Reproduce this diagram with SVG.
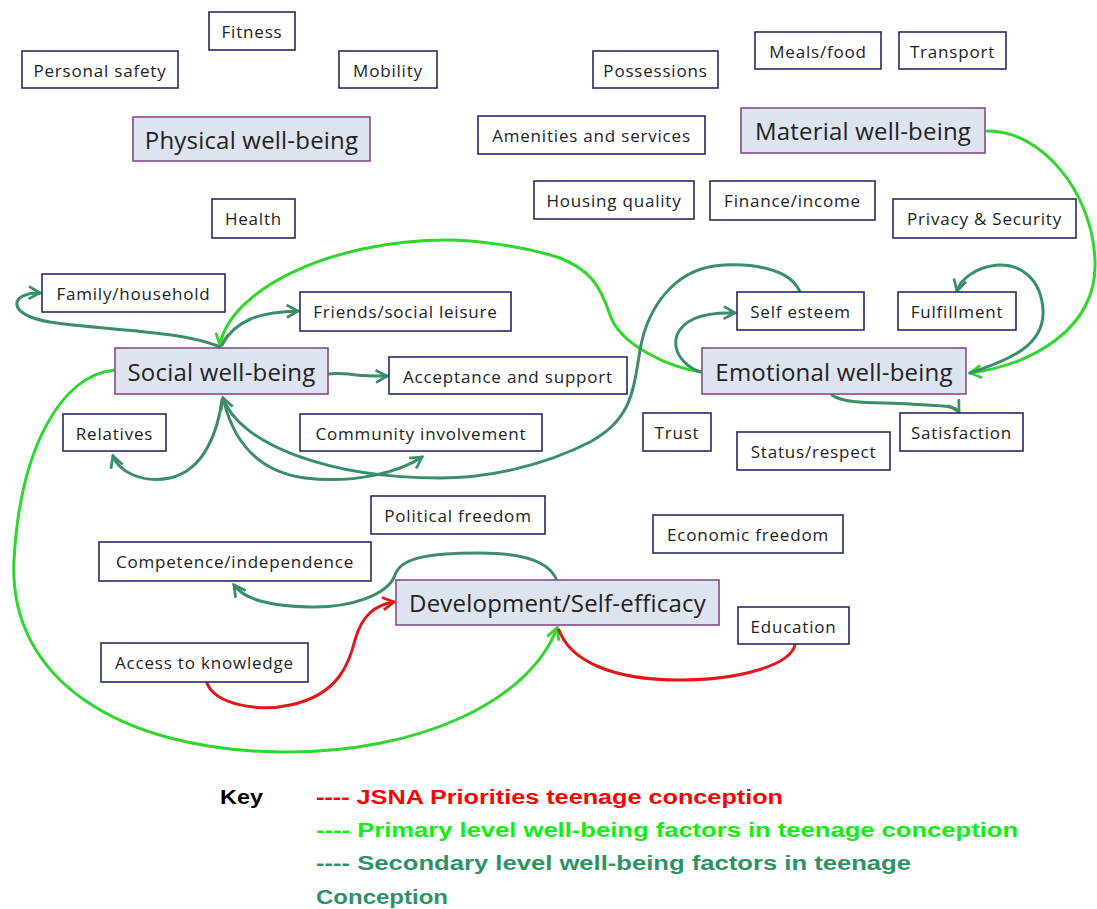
<svg xmlns="http://www.w3.org/2000/svg" width="1097" height="909" viewBox="0 0 1097 909">
<defs>
<style>
.b{fill:#fff;stroke:#2a2a66;stroke-width:1.6}
.m{fill:#dde4f0;stroke:#8a4a8a;stroke-width:1.6}
.t{font-family:"Open Sans","DejaVu Sans",sans-serif;font-size:17px;letter-spacing:0.8px;fill:#222;text-anchor:middle;dominant-baseline:central}
.T{font-family:"Open Sans","DejaVu Sans",sans-serif;font-size:24px;letter-spacing:0.2px;fill:#222;text-anchor:middle;dominant-baseline:central}
.p{fill:none;stroke:#2ed62e;stroke-width:3;stroke-linecap:round}
.s{fill:none;stroke:#3a8e6a;stroke-width:3;stroke-linecap:round}
.r{fill:none;stroke:#e01818;stroke-width:3;stroke-linecap:round}
.k{font-family:"Liberation Sans",Arial,sans-serif;font-size:20px;font-weight:bold}
</style>
<marker id="ap" viewBox="0 0 12 12" refX="10" refY="6" markerWidth="5" markerHeight="5" orient="auto" markerUnits="strokeWidth"><path d="M1,1 L10,6 L1,11" fill="none" stroke="#2ed62e" stroke-width="2.2"/></marker>
<marker id="as" viewBox="0 0 12 12" refX="10" refY="6" markerWidth="5" markerHeight="5" orient="auto" markerUnits="strokeWidth"><path d="M1,1 L10,6 L1,11" fill="none" stroke="#3a8e6a" stroke-width="2.2"/></marker>
<marker id="ar" viewBox="0 0 12 12" refX="10" refY="6" markerWidth="5" markerHeight="5" orient="auto" markerUnits="strokeWidth"><path d="M1,1 L10,6 L1,11" fill="none" stroke="#e01818" stroke-width="2.2"/></marker>
</defs>
<rect width="1097" height="909" fill="#fff"/>

<g id="connectors">
<path class="p" d="M987,131 C1040,130 1092,190 1095,260 C1098,330 1030,365 970,373" marker-end="url(#ap)"/>
<path class="p" d="M702,372 C670,368 620,345 610,315 C600,285 590,270 560,258 C520,245 470,240 447,240 C330,240 230,290 220,345" marker-end="url(#ap)"/>
<path class="p" d="M115,370 C60,375 20,450 14,560 C8,680 120,750 280,752 C420,754 530,700 557,628" marker-end="url(#ap)"/>
<path class="s" d="M220,347 C180,330 100,330 50,322 C5,315 10,292 40,293" marker-end="url(#as)"/>
<path class="s" d="M222,345 C235,320 260,312 298,311" marker-end="url(#as)"/>
<path class="s" d="M328,374 C345,372 360,377 387,376" marker-end="url(#as)"/>
<path class="s" d="M222,400 C218,430 205,470 170,478 C140,484 118,470 113,456" marker-end="url(#as)"/>
<path class="s" d="M224,402 C235,445 260,472 305,478 C355,484 400,472 422,457" marker-end="url(#as)"/>
<path class="s" d="M800,292 C790,268 750,262 714,266 C675,272 648,305 640,350 C633,395 630,420 590,442 C545,465 490,478 440,478 C330,478 240,445 223,398" marker-end="url(#as)"/>
<path class="s" d="M700,372 C682,365 672,350 677,335 C684,318 705,312 735,313" marker-end="url(#as)"/>
<path class="s" d="M970,373 C1010,360 1045,345 1043,310 C1041,278 1020,264 998,265 C975,267 960,280 957,291" marker-end="url(#as)"/>
<path class="s" d="M832,395 C845,405 880,402 910,404 C940,406 955,405 959,412" marker-end="url(#as)"/>
<path class="s" d="M557,581 C550,560 520,553 480,553 C420,553 400,560 395,575 C388,595 350,608 310,607 C270,606 245,600 234,585" marker-end="url(#as)"/>
<path class="r" d="M207,683 C215,705 260,712 290,705 C340,695 350,660 355,640 C362,615 375,605 394,602" marker-end="url(#ar)"/>
<path class="r" d="M795,645 C790,665 740,680 680,680 C610,680 570,660 559,630"/>
</g>

<g id="physical-wellbeing"><rect class="m" x="133" y="117" width="237" height="44"/><text class="T" x="251.5" y="139">Physical well-being</text></g>
<g id="fitness"><rect class="b" x="209" y="12" width="86" height="38"/><text class="t" x="252" y="31">Fitness</text></g>
<g id="personal-safety"><rect class="b" x="22" y="51" width="156" height="37"/><text class="t" x="100" y="70">Personal safety</text></g>
<g id="mobility"><rect class="b" x="339" y="51" width="98" height="37"/><text class="t" x="388" y="70">Mobility</text></g>
<g id="health"><rect class="b" x="212" y="199" width="83" height="39"/><text class="t" x="253.5" y="218.5">Health</text></g>

<g id="material-wellbeing"><rect class="m" x="741" y="108" width="244" height="45"/><text class="T" x="863" y="130.5">Material well-being</text></g>
<g id="possessions"><rect class="b" x="593" y="51" width="125" height="37"/><text class="t" x="655.5" y="70">Possessions</text></g>
<g id="meals-food"><rect class="b" x="755" y="32" width="126" height="37"/><text class="t" x="818" y="51">Meals/food</text></g>
<g id="transport"><rect class="b" x="899" y="32" width="107" height="37"/><text class="t" x="952.5" y="51">Transport</text></g>
<g id="amenities"><rect class="b" x="478" y="116" width="227" height="38"/><text class="t" x="591.5" y="135">Amenities and services</text></g>
<g id="housing-quality"><rect class="b" x="534" y="181" width="160" height="38"/><text class="t" x="614" y="200">Housing quality</text></g>
<g id="finance-income"><rect class="b" x="710" y="181" width="165" height="39"/><text class="t" x="792.5" y="200.5">Finance/income</text></g>
<g id="privacy-security"><rect class="b" x="893" y="199" width="183" height="39"/><text class="t" x="984.5" y="218.5">Privacy &amp; Security</text></g>

<g id="social-wellbeing"><rect class="m" x="115" y="348" width="213" height="46"/><text class="T" x="221.5" y="371">Social well-being</text></g>
<g id="family-household"><rect class="b" x="42" y="274" width="183" height="38"/><text class="t" x="133.5" y="293">Family/household</text></g>
<g id="friends"><rect class="b" x="300" y="292" width="211" height="39"/><text class="t" x="405.5" y="311.5">Friends/social leisure</text></g>
<g id="acceptance"><rect class="b" x="389" y="357" width="238" height="37"/><text class="t" x="508" y="376">Acceptance and support</text></g>
<g id="relatives"><rect class="b" x="63" y="414" width="103" height="37"/><text class="t" x="114.5" y="433">Relatives</text></g>
<g id="community"><rect class="b" x="300" y="414" width="242" height="37"/><text class="t" x="421" y="433">Community involvement</text></g>

<g id="emotional-wellbeing"><rect class="m" x="702" y="348" width="264" height="46"/><text class="T" x="834" y="371">Emotional well-being</text></g>
<g id="self-esteem"><rect class="b" x="737" y="292" width="127" height="38"/><text class="t" x="800.5" y="311">Self esteem</text></g>
<g id="fulfillment"><rect class="b" x="898" y="292" width="118" height="38"/><text class="t" x="957" y="311">Fulfillment</text></g>
<g id="trust"><rect class="b" x="643" y="413" width="68" height="38"/><text class="t" x="677" y="432">Trust</text></g>
<g id="status"><rect class="b" x="737" y="432" width="153" height="38"/><text class="t" x="813.5" y="451">Status/respect</text></g>
<g id="satisfaction"><rect class="b" x="900" y="413" width="123" height="38"/><text class="t" x="961.5" y="432">Satisfaction</text></g>

<g id="development"><rect class="m" x="396" y="580" width="323" height="45"/><text class="T" x="557.5" y="602.5">Development/Self-efficacy</text></g>
<g id="political-freedom"><rect class="b" x="371" y="496" width="174" height="38"/><text class="t" x="458" y="515">Political freedom</text></g>
<g id="economic-freedom"><rect class="b" x="653" y="515" width="190" height="38"/><text class="t" x="748" y="534">Economic freedom</text></g>
<g id="competence"><rect class="b" x="99" y="542" width="272" height="39"/><text class="t" x="235" y="561.5">Competence/independence</text></g>
<g id="education"><rect class="b" x="738" y="607" width="111" height="37"/><text class="t" x="793.5" y="626">Education</text></g>
<g id="access-knowledge"><rect class="b" x="101" y="643" width="207" height="39"/><text class="t" x="204.5" y="662.5">Access to knowledge</text></g>

<g id="key">
<text class="k" x="220" y="804" fill="#000" textLength="43" lengthAdjust="spacingAndGlyphs">Key</text>
<text class="k" x="316" y="804" fill="#ff0000" textLength="467" lengthAdjust="spacingAndGlyphs">---- JSNA Priorities teenage conception</text>
<text class="k" x="316" y="837" fill="#11ee11" textLength="702" lengthAdjust="spacingAndGlyphs">---- Primary level well-being factors in teenage conception</text>
<text class="k" x="316" y="870" fill="#2e9363" textLength="595" lengthAdjust="spacingAndGlyphs">---- Secondary level well-being factors in teenage</text>
<text class="k" x="316" y="904" fill="#2e9363" textLength="132" lengthAdjust="spacingAndGlyphs">Conception</text>
</g>
</svg>
